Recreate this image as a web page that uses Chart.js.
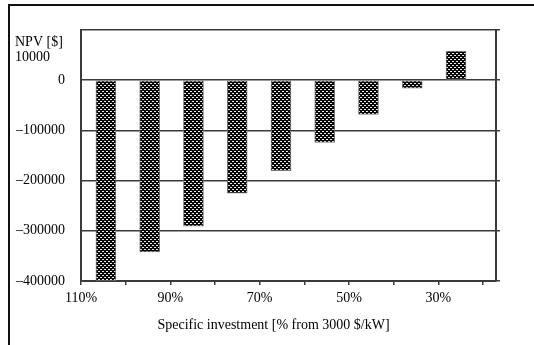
<!DOCTYPE html>
<html>
<head>
<meta charset="utf-8">
<script src="https://cdn.jsdelivr.net/npm/chart.js@4.4.1/dist/chart.umd.min.js"></script>
<style>
  html, body { margin: 0; padding: 0; background: #fff; }
  #wrap { position: relative; width: 534px; height: 345px; }
  #frame { position: absolute; left: 8px; top: 4px; right: 0; bottom: 0; border-top: 2px solid #111; border-left: 2px solid #111; }
  canvas { position: absolute; left: 0; top: 0; }
</style>
</head>
<body>
<div id="wrap">
  <div id="frame"></div>
  <canvas id="npvChart" width="534" height="345"></canvas>
</div>
<script>
// bar positions (% of 3000 $/kW, as drawn) and NPV values [$]
const investment = [105, 95, 85, 75, 65, 55, 45, 35, 25];
const npv = [-400000, -342000, -291000, -225000, -180000, -124000, -68000, -16000, 58000];

// x axis ticks and their labels
const xTickValues = [110, 100, 90, 80, 70, 60, 50, 40, 30, 20];
const xTickLabels = ["110%", "", "90%", "", "70%", "", "50%", "", "30%", ""];

const yTitleLines = ["NPV [$]", "10000"];
const xTitle = "Specific investment [% from 3000 $/kW]";

const FONT = "'Liberation Serif', 'Times New Roman', serif";
const FONT_SIZE = 14;
const LINE = "#3a3a3a";

// dark confetti fill like the original
function makePattern() {
  const p = document.createElement("canvas");
  p.width = 4;
  p.height = 4;
  const c = p.getContext("2d");
  c.fillStyle = "#080808";
  c.fillRect(0, 0, 4, 4);
  c.fillStyle = "#e8e8e8";
  c.fillRect(0, 1, 2, 1);
  c.fillRect(2, 3, 2, 1);
  return c.createPattern(p, "repeat");
}

// text that sits outside the axes in the original figure
const textPlugin = {
  id: "extraText",
  afterDraw(chart) {
    const ctx = chart.ctx;
    const area = chart.chartArea;
    ctx.save();
    ctx.fillStyle = "#000";
    ctx.font = FONT_SIZE + "px " + FONT;
    ctx.textBaseline = "middle";
    ctx.textAlign = "left";
    ctx.fillText(yTitleLines[0], 15, 42);
    ctx.fillText(yTitleLines[1], 15, 57);
    ctx.textAlign = "center";
    ctx.fillText(xTitle, (area.left + area.right) / 2 - 15, 325);
    ctx.restore();
  }
};

const ctx = document.getElementById("npvChart").getContext("2d");

new Chart(ctx, {
  type: "bar",
  data: {
    datasets: [
      {
        data: investment.map((v, i) => ({ x: v, y: npv[i] })),
        xAxisID: "xb",
        backgroundColor: makePattern(),
        borderColor: "#777",
        borderWidth: 1,
        borderSkipped: false,
        barThickness: 20,
      },
    ],
  },
  options: {
    responsive: false,
    animation: false,
    layout: { padding: { top: 30, left: 0, right: 0, bottom: 0 } },
    plugins: {
      legend: { display: false },
      tooltip: { enabled: false },
    },
    scales: {
      xb: {
        type: "linear",
        position: "bottom",
        offset: false,
        reverse: true,
        min: 15.86,
        max: 110.7,
        afterFit: (axis) => {
          axis.height = 0;
        },
        grid: { display: false, offset: false },
        border: { display: false },
        ticks: { display: false },
      },
      x: {
        type: "linear",
        position: "bottom",
        offset: false,
        reverse: true,
        min: 17.1,
        max: 110,
        afterBuildTicks: (axis) => {
          axis.ticks = xTickValues.map((v) => ({ value: v }));
        },
        afterFit: (axis) => {
          axis.height = 64;
        },
        grid: {
          offset: false,
          drawOnChartArea: false,
          drawTicks: true,
          tickLength: 4,
          color: LINE,
          lineWidth: 1.5,
        },
        border: { color: LINE, width: 2 },
        ticks: {
          autoSkip: false,
          maxRotation: 0,
          padding: 5,
          color: "#000",
          font: { family: FONT, size: FONT_SIZE },
          callback: (value, index) => xTickLabels[index],
        },
      },
      y: {
        position: "left",
        min: -400000,
        max: 100000,
        afterBuildTicks: (axis) => {
          axis.ticks = [];
          for (let v = 100000; v >= -400000; v -= 100000) axis.ticks.push({ value: v });
        },
        afterFit: (axis) => {
          axis.width = 81;
        },
        grid: {
          drawTicks: false,
          color: LINE,
          lineWidth: 1.5,
        },
        border: { color: LINE, width: 2 },
        ticks: {
          padding: 16,
          color: "#000",
          font: { family: FONT, size: FONT_SIZE },
          callback: (value) => {
            if (value > 0) return "";
            return value < 0 ? "\u2013" + Math.abs(value) : "0";
          },
        },
      },
      y2: {
        position: "right",
        min: -400000,
        max: 100000,
        afterBuildTicks: (axis) => {
          axis.ticks = [];
          for (let v = 100000; v >= -400000; v -= 100000) axis.ticks.push({ value: v });
        },
        afterFit: (axis) => {
          axis.width = 38;
        },
        grid: {
          drawOnChartArea: false,
          drawTicks: true,
          tickLength: 4,
          color: LINE,
          lineWidth: 1.5,
        },
        border: { color: LINE, width: 2 },
        ticks: {
          padding: 0,
          callback: () => "",
        },
      },
    },
  },
  plugins: [textPlugin],
});
</script>
</body>
</html>
